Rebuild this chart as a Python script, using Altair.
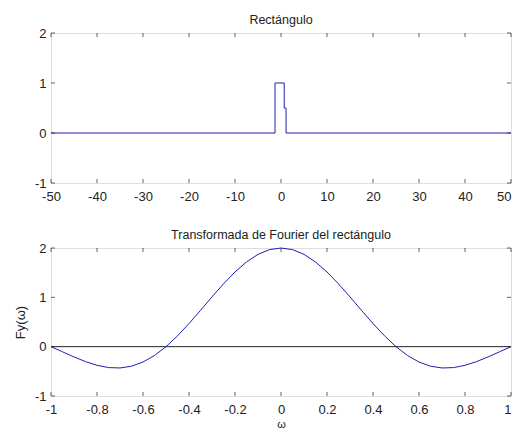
import altair as alt
import pandas as pd

# ---- data ----
rect_t = [-50, -1.3, -1.3, 0.7, 0.7, 1.1, 1.1, 50]
rect_v = [0, 0, 1, 1, 0.5, 0.5, 0, 0]

omega = [-1.0, -0.95, -0.9, -0.85, -0.8, -0.75, -0.7, -0.65, -0.6, -0.55, -0.5,
         -0.45, -0.4, -0.35, -0.3, -0.25, -0.2, -0.15, -0.1, -0.05, 0.0,
         0.05, 0.1, 0.15, 0.2, 0.25, 0.3, 0.35, 0.4, 0.45, 0.5,
         0.55, 0.6, 0.65, 0.7, 0.75, 0.8, 0.85, 0.9, 0.95, 1.0]
fy = [0.0, -0.104, -0.208, -0.303, -0.378, -0.424, -0.432, -0.396, -0.312, -0.179, 0.0,
      0.219, 0.468, 0.736, 1.009, 1.273, 1.514, 1.717, 1.871, 1.967, 2.0,
      1.967, 1.871, 1.717, 1.514, 1.273, 1.009, 0.736, 0.468, 0.219, 0.0,
      -0.179, -0.312, -0.396, -0.432, -0.424, -0.378, -0.303, -0.208, -0.104, 0.0]

top_xticks = [-50, -40, -30, -20, -10, 0, 10, 20, 30, 40, 50]
bot_xticks = [-1, -0.8, -0.6, -0.4, -0.2, 0, 0.2, 0.4, 0.6, 0.8, 1]
yticks = [-1, 0, 1, 2]
zero_x = [-1, 1]
zero_y = [0, 0]

W = 460
H1 = 150
H2 = 148
BLUE = "#1f1fb0"
INK = "#222222"
FONT = "Liberation Sans"
LABEL_EXPR = "datum.value < 0 ? '-' + format(-datum.value, '') : format(datum.value, '')"


def panel(df_line, xdom, xticks, h, title, xtitle=None, ytitle=None, extra=None):
    xs = alt.Scale(domain=xdom, nice=False, zero=False)
    ys = alt.Scale(domain=[-1, 2], nice=False, zero=False)
    xmax = xdom[1]
    xaxis = alt.Axis(values=xticks, ticks=False, domain=False, grid=False,
                     labelFlush=False, labelOverlap=False, labelPadding=7,
                     labelExpr=LABEL_EXPR, labelFont=FONT, labelFontSize=13,
                     labelColor=INK,
                     labelAlign={"condition": {"test": f"datum.value >= {xmax}", "value": "right"},
                                 "value": "center"},
                     title=xtitle, titleFontSize=11, titleFont=FONT,
                     titleFontWeight="normal", titleColor=INK, titlePadding=2)
    yaxis = alt.Axis(values=yticks, ticks=False, domain=False, grid=False,
                     labelPadding=5, labelOverlap=False, labelExpr=LABEL_EXPR,
                     labelFont=FONT, labelFontSize=13, labelColor=INK,
                     title=ytitle,
                     titleFontSize=13, titleFont=FONT, titleFontWeight="normal",
                     titleColor=INK, titlePadding=7, minExtent=17, maxExtent=17)
    line = alt.Chart(df_line).mark_line(color=BLUE, strokeWidth=1).encode(
        x=alt.X("x:Q", scale=xs, axis=xaxis),
        y=alt.Y("y:Q", scale=ys, axis=yaxis),
        order="i:Q",
    )
    layers = []
    if extra is not None:
        layers.append(alt.Chart(extra).mark_line(color=INK, strokeWidth=1).encode(
            x=alt.X("x:Q", scale=xs), y=alt.Y("y:Q", scale=ys)))
    layers.append(line)
    xt = pd.DataFrame({"x": xticks})
    yt = pd.DataFrame({"y": yticks})
    for yp in [2, h - 2]:
        layers.append(alt.Chart(xt).mark_tick(orient="vertical", size=4, thickness=1, color=INK).encode(
            x=alt.X("x:Q", scale=xs), y=alt.value(yp)))
    for xp in [2, W - 2]:
        layers.append(alt.Chart(yt).mark_tick(orient="horizontal", size=4, thickness=1, color=INK).encode(
            y=alt.Y("y:Q", scale=ys), x=alt.value(xp)))
    return alt.layer(*layers).properties(
        width=W, height=h,
        title=alt.TitleParams(title, fontSize=12.5, font=FONT, fontWeight="normal",
                              color=INK, offset=1),
    )


df_top = pd.DataFrame({"x": rect_t, "y": rect_v, "i": list(range(len(rect_t)))})
df_bot = pd.DataFrame({"x": omega, "y": fy, "i": list(range(len(omega)))})
df_zero = pd.DataFrame({"x": zero_x, "y": zero_y})

top = panel(df_top, [-50, 50], top_xticks, H1, "Rectángulo", ytitle=" ")
bot = panel(df_bot, [-1, 1], bot_xticks, H2, "Transformada de Fourier del rectángulo",
            xtitle="ω", ytitle="Fy(ω)", extra=df_zero)

chart = alt.vconcat(top, bot, spacing=24).properties(
    padding={"left": 5, "top": 5, "right": 0, "bottom": 0}
).configure_view(stroke=INK, strokeWidth=1).configure(background="white")

chart.save("out.html", embed_options={"renderer": "svg", "actions": False})
